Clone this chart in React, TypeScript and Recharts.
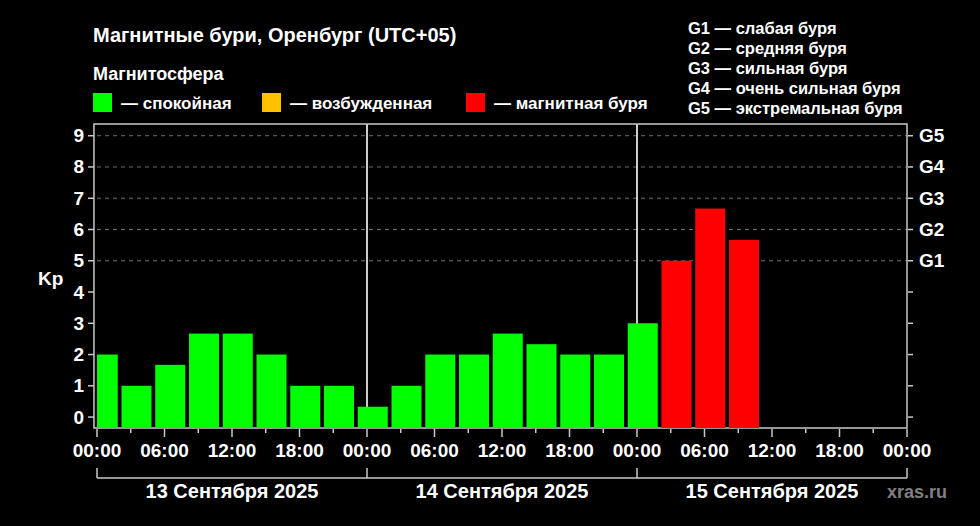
import React from 'react';
import { ComposedChart, Bar, XAxis, YAxis, CartesianGrid, ReferenceArea } from 'recharts';

// Bar centres, hours from 13 Sep 00:00 local time (UTC+05); each bar spans 3 h
const barHours = [0.5, 3.5, 6.5, 9.5, 12.5, 15.5, 18.5, 21.5, 24.5, 27.5, 30.5, 33.5, 36.5, 39.5, 42.5, 45.5, 48.5, 51.5, 54.5, 57.5];
const kpValues = [2, 1, 1.67, 2.67, 2.67, 2, 1, 1, 0.33, 1, 2, 2, 2.67, 2.33, 2, 2, 3, 5, 6.67, 5.67];

const timeTicks = [0, 3, 6, 9, 12, 15, 18, 21, 24, 27, 30, 33, 36, 39, 42, 45, 48, 51, 54, 57, 60, 63, 66, 69, 72];
const timeLabels = ['00:00', '06:00', '12:00', '18:00'];
const dayTicks = [0, 12, 24, 36, 48, 60, 72];
const dayLabels = ['13 Сентября 2025', '14 Сентября 2025', '15 Сентября 2025'];
const dayBoundaries = [24, 48];
const kpTicks = [0, 1, 2, 3, 4, 5, 6, 7, 8, 9];
const gridLevels = [5, 6, 7, 8, 9];
const gLabels = ['G1', 'G2', 'G3', 'G4', 'G5'];
const stormScale = ['G1 — слабая буря', 'G2 — средняя буря', 'G3 — сильная буря', 'G4 — очень сильная буря', 'G5 — экстремальная буря'];
const legendLabels = ['— спокойная', '— возбужденная', '— магнитная буря'];
const legendColors = ['#00ff00', '#ffc000', '#ff0000'];

const data = barHours.map((h, i) => ({ h, kp: kpValues[i] }));

const W = 980;
const H = 526;
const PLOT_LEFT = 97;
const PLOT_RIGHT = 907;
const PLOT_TOP = 124;
const PLOT_BOTTOM = 428;
const Y_DOMAIN: [number, number] = [-0.35, 9.375];
const X_DOMAIN: [number, number] = [0, 72];
const FONT = '"Liberation Sans", Arial, sans-serif';
const AXIS_COLOR = '#c8c8c8';

const kpColor = (v: number) => (v >= 5 ? legendColors[2] : v >= 4 ? legendColors[1] : legendColors[0]);

function KpBar(props: any) {
  const { x, y, width, payload } = props;
  const left = Math.max(x, PLOT_LEFT);
  const right = x + width;
  if (right <= left) return null;
  return <rect x={left} y={y} width={right - left} height={PLOT_BOTTOM - y} fill={kpColor(payload.kp)} />;
}

function TimeTick(props: any) {
  const { x, y, payload } = props;
  const v = payload.value as number;
  const major = v % 6 === 0;
  return (
    <g>
      <line x1={x} x2={x} y1={y + 1} y2={y + (major ? 9 : 5)} stroke={AXIS_COLOR} strokeWidth={1.5} />
      {major && (
        <text x={x} y={y + 29} textAnchor="middle" fill="#fff" fontSize={19} fontWeight="bold" fontFamily={FONT}>
          {timeLabels[(v % 24) / 6]}
        </text>
      )}
    </g>
  );
}

function DateTick(props: any) {
  const { x, y, payload } = props;
  const v = payload.value as number;
  if (v % 24 === 0) {
    return <line x1={x} x2={x} y1={y - 10} y2={y} stroke={AXIS_COLOR} strokeWidth={1.5} />;
  }
  return (
    <text x={x} y={y + 20} textAnchor="middle" fill="#fff" fontSize={20} fontWeight="bold" fontFamily={FONT}>
      {dayLabels[(v - 12) / 24]}
    </text>
  );
}

function KpTick(props: any) {
  const { x, y, payload } = props;
  return (
    <g>
      <line x1={x - 9} x2={x - 3} y1={y} y2={y} stroke={AXIS_COLOR} strokeWidth={1.5} />
      <text x={x - 13} y={y + 6.5} textAnchor="end" fill="#fff" fontSize={19} fontWeight="bold" fontFamily={FONT}>
        {payload.value}
      </text>
    </g>
  );
}

function GTick(props: any) {
  const { x, y, payload } = props;
  const v = payload.value as number;
  return (
    <g>
      <line x1={x + 1} x2={x + 6} y1={y} y2={y} stroke={AXIS_COLOR} strokeWidth={1.5} />
      {v >= 5 && (
        <text x={x + 12} y={y + 6.5} textAnchor="start" fill="#fff" fontSize={19} fontWeight="bold" fontFamily={FONT}>
          {gLabels[v - 5]}
        </text>
      )}
    </g>
  );
}

export default function App() {
  const legendX = [93, 262, 466];
  return (
    <div style={{ position: 'absolute', left: 0, top: 0, width: W, height: H, background: '#000', overflow: 'hidden' }}>
      <ComposedChart
        width={W}
        height={H}
        data={data}
        margin={{ top: PLOT_TOP, right: 0, bottom: 0, left: 0 }}
        style={{ position: 'absolute', left: 0, top: 0 }}
      >
        <CartesianGrid
          xAxisId="x1"
          yAxisId="left"
          vertical={false}
          horizontalValues={gridLevels}
          stroke="#6e6e6e"
          strokeDasharray="4 4"
        />
        <CartesianGrid
          xAxisId="x1"
          yAxisId="left"
          horizontal={false}
          verticalValues={dayBoundaries}
          stroke="#ffffff"
          strokeWidth={1.6}
        />
        <XAxis
          xAxisId="x1"
          dataKey="h"
          type="number"
          domain={X_DOMAIN}
          allowDataOverflow
          ticks={timeTicks}
          interval={0}
          height={50}
          axisLine={false}
          tickLine={false}
          tickSize={0}
          tickMargin={0}
          tick={<TimeTick />}
        />
        <XAxis
          xAxisId="x2"
          dataKey="h"
          type="number"
          domain={X_DOMAIN}
          allowDataOverflow
          ticks={dayTicks}
          interval={0}
          height={48}
          axisLine={{ stroke: AXIS_COLOR, strokeWidth: 1.5 }}
          tickLine={false}
          tickSize={0}
          tickMargin={0}
          tick={<DateTick />}
        />
        <YAxis
          yAxisId="left"
          type="number"
          domain={Y_DOMAIN}
          allowDataOverflow
          ticks={kpTicks}
          interval={0}
          width={PLOT_LEFT}
          axisLine={false}
          tickLine={false}
          tickSize={0}
          tickMargin={0}
          tick={<KpTick />}
        />
        <YAxis
          yAxisId="right"
          orientation="right"
          type="number"
          domain={Y_DOMAIN}
          allowDataOverflow
          ticks={kpTicks}
          interval={0}
          width={W - PLOT_RIGHT}
          axisLine={false}
          tickLine={false}
          tickSize={0}
          tickMargin={0}
          tick={<GTick />}
        />
        <Bar
          xAxisId="x1"
          yAxisId="left"
          dataKey="kp"
          barSize={30}
          shape={<KpBar />}
          isAnimationActive={false}
        />
        <ReferenceArea
          xAxisId="x1"
          yAxisId="left"
          x1={-0.27}
          x2={72}
          y1={Y_DOMAIN[0]}
          y2={Y_DOMAIN[1]}
          ifOverflow="visible"
          fill="none"
          fillOpacity={0}
          stroke={AXIS_COLOR}
          strokeWidth={1.5}
        />
      </ComposedChart>
      <svg width={W} height={H} style={{ position: 'absolute', left: 0, top: 0, pointerEvents: 'none' }}>
        <g fontFamily={FONT} fontWeight="bold" fill="#fff">
          <text x={93} y={42} fontSize={20}>Магнитные бури, Оренбург (UTC+05)</text>
          <text x={93} y={80} fontSize={18}>Магнитосфера</text>
          {legendLabels.map((label, i) => (
            <g key={label}>
              <rect x={legendX[i]} y={93} width={19} height={19} fill={legendColors[i]} />
              <text x={legendX[i] + 28} y={109} fontSize={17}>{label}</text>
            </g>
          ))}
          {stormScale.map((s, i) => (
            <text key={s} x={688} y={34 + i * 20} fontSize={16.5}>{s}</text>
          ))}
          <text x={38} y={285} fontSize={19}>Kp</text>
          <text x={887} y={498} fontSize={18} fill="#808080">xras.ru</text>
        </g>
      </svg>
    </div>
  );
}
